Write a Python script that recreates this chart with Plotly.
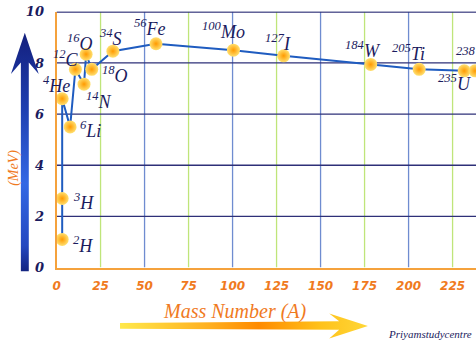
import plotly.graph_objects as go

# ---- data ----
nuclides = ["2H", "3H", "4He", "6Li", "12C", "14N", "16O", "18O", "34S", "56Fe",
            "100Mo", "127I", "184W", "205Ti", "235U", "238U"]
mass_sup = ["2", "3", "4", "6", "12", "14", "16", "18", "34", "56",
            "100", "127", "184", "205", "235", "238"]
symbols = ["H", "H", "He", "Li", "C", "N", "O", "O", "S", "Fe",
           "Mo", "I", "W", "Ti", "U", "U"]
mass_x = [3.2, 3.2, 3.2, 7.7, 10.7, 15.6, 16.8, 20.0, 32.0, 56.5,
          100.5, 129.0, 178.5, 206.0, 231.6, 237.8]
be_mev = [1.1, 2.7, 6.6, 5.5, 7.75, 7.17, 8.34, 7.75, 8.46, 8.75,
          8.5, 8.28, 7.94, 7.75, 7.69, 7.69]
x_ticks = [0, 25, 50, 75, 100, 125, 150, 175, 200, 225]
y_ticks = [0, 2, 4, 6, 8, 10]

# label pixel offsets (style)
lab_dx = [9, 9, -21, 8, -24, 0, -21, 8, -16, -24, -33, -21, -28, -29, -28, -21]
lab_dy = [-5, -3, 14, -3, 11, -16, 12, -5, 14, 16, 20, 13, 15, 17, -12, 15]

W, H = 476, 356
L, T, B = 53, 5, 272          # plot area in pixels
XMAX = (W - L) / 1.775

NAVY = "#1b1b5e"
ORANGE = "#F07A1E"

fig = go.Figure()

# main line + markers
fig.add_trace(go.Scatter(
    x=mass_x, y=be_mev, mode="lines+markers",
    line=dict(color="#1f5cc0", width=2),
    marker=dict(size=13, color="#FFE070",
                gradient=dict(type="radial", color="#FF9A00"),
                line=dict(width=0)),
    hoverinfo="skip", showlegend=False))

# decorative arrows on a pixel overlay axis
fig.add_trace(go.Scatter(
    x=[21, 35, 25, 25, 17, 17, 7, 21],
    y=[27, 70, 58, 276, 276, 58, 70, 27],
    xaxis="x2", yaxis="y2", mode="lines", fill="toself",
    line=dict(width=0),
    fillgradient=dict(type="vertical", start=27, stop=276,
                      colorscale=[[0, "#14207e"], [0.3, "#1e3fb0"],
                                  [0.6, "#3468e4"], [0.85, "#2448c0"],
                                  [1, "#0b1464"]]),
    hoverinfo="skip", showlegend=False))
fig.add_trace(go.Scatter(
    x=[117, 338, 328, 367, 328, 338, 117, 117],
    y=[330, 328, 320, 333, 346, 337, 336, 330],
    xaxis="x2", yaxis="y2", mode="lines", fill="toself",
    line=dict(width=0),
    fillgradient=dict(type="horizontal", start=117, stop=367,
                      colorscale=[[0, "#FFE84A"], [0.35, "#FFB020"],
                                  [0.55, "#FF8A00"], [0.8, "#FFC21A"],
                                  [1, "#FFD83A"]]),
    hoverinfo="skip", showlegend=False))

shapes = []
for xv in x_ticks[1:]:
    col = "#bfe57a" if (xv // 25) % 2 == 1 else "#6f8cd0"
    shapes.append(dict(type="line", xref="x", yref="y", x0=xv, x1=xv, y0=0, y1=10,
                       line=dict(color=col, width=1.3), layer="below"))
for yv in y_ticks[1:]:
    shapes.append(dict(type="line", xref="x", yref="y", x0=0, x1=XMAX, y0=yv, y1=yv,
                       line=dict(color="#2e3078", width=1.3), layer="below"))

annotations = []
for xs, ys, sup, sym, dx, dy in zip(mass_x, be_mev, mass_sup, symbols, lab_dx, lab_dy):
    annotations.append(dict(
        x=xs, y=ys, xref="x", yref="y", showarrow=False,
        text=f"<sup>{sup}</sup>{sym}", xanchor="left", yanchor="middle",
        xshift=dx, yshift=dy,
        font=dict(family="Liberation Serif", size=18, color=NAVY, style="italic")))

annotations += [
    dict(x=10, y=168, xref="x2", yref="y2", text="(MeV)", textangle=-90,
         showarrow=False, font=dict(family="Liberation Serif", size=14,
                                    color=ORANGE, style="italic")),
    dict(x=233, y=318, xref="x2", yref="y2", text="Mass Number (A)",
         showarrow=False, font=dict(family="Liberation Serif", size=20,
                                    color=ORANGE, style="italic")),
    dict(x=385, y=341, xref="x2", yref="y2", text="Priyamstudycentre",
         xanchor="left", showarrow=False,
         font=dict(family="Liberation Serif", size=11, color=NAVY, style="italic")),
]

fig.update_layout(
    width=W, height=H, margin=dict(l=0, r=0, t=0, b=0),
    paper_bgcolor="white", plot_bgcolor="rgba(0,0,0,0)",
    xaxis=dict(domain=[L / W, 1], range=[0, XMAX], tickvals=x_ticks,
               showgrid=False, zeroline=False, showline=True,
               linecolor="#F5A23C", linewidth=2, ticks="", ticklabelstandoff=6,
               ticklabeloverflow="allow",
               tickfont=dict(family="DejaVu Sans", size=12, color=ORANGE,
                             style="italic", weight="bold")),
    yaxis=dict(domain=[(H - B) / H, (H - T) / H], range=[0, 10], tickvals=y_ticks,
               showgrid=False, zeroline=False, showline=True,
               linecolor="#F5A23C", linewidth=2, ticks="", ticklabelstandoff=8,
               ticklabeloverflow="allow",
               tickfont=dict(family="DejaVu Serif", size=13, color=NAVY,
                             style="italic", weight="bold")),
    xaxis2=dict(domain=[0, 1], range=[0, W], visible=False, fixedrange=True),
    yaxis2=dict(domain=[0, 1], range=[H, 0], visible=False, fixedrange=True),
    shapes=shapes + [dict(type="line", xref="x", yref="y", x0=0, x1=XMAX, y0=10, y1=10,
                          line=dict(color="#2e3078", width=1.5))],
    annotations=annotations,
)

fig.write_html("out.html", config={"displayModeBar": False},
               post_script="document.body.style.margin='0';document.body.style.padding='0';")
